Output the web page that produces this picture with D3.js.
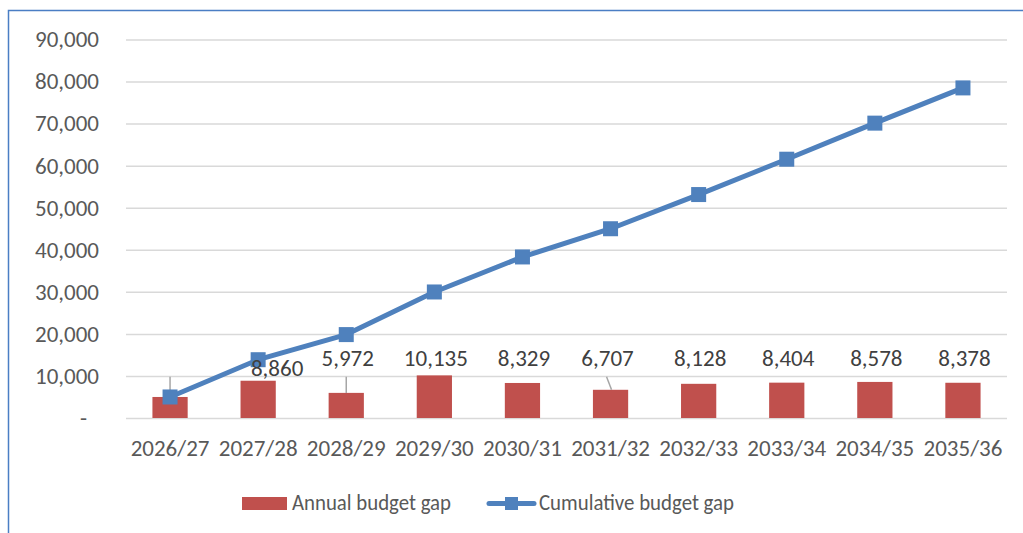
<!DOCTYPE html>
<html><head><meta charset="utf-8">
<script src="https://cdn.jsdelivr.net/npm/d3@7"></script>
<style>
html,body{margin:0;padding:0;background:#fff;overflow:hidden;}
svg{display:block;font-family:Carlito,Calibri,Lato,sans-serif;}
</style></head>
<body>
<svg id="chart" width="1023" height="533"></svg>
<script>
const categories = ['2026/27','2027/28','2028/29','2029/30','2030/31','2031/32','2032/33','2033/34','2034/35','2035/36'];
const annualGap = [5000, 8860, 5972, 10135, 8329, 6707, 8128, 8404, 8578, 8378];
const cumulativeGap = [5000, 13860, 19832, 29967, 38296, 45003, 53131, 61535, 70113, 78491];
const yTicks = [0, 10000, 20000, 30000, 40000, 50000, 60000, 70000, 80000, 90000];
const seriesNames = ['Annual budget gap', 'Cumulative budget gap'];
const shownLabels = [false, true, true, true, true, true, true, true, true, true];

const RED = '#C0504D', BLUE = '#4F81BD', GRID = '#D9D9D9', TEXT = '#595959', LEADER = '#A6A6A6';
const FONT = 'Carlito,Calibri,Lato,sans-serif';
const FS = '23px';
const svg = d3.select('#chart');

// outer frame (clipped at right/bottom)
svg.append('rect').attr('x', 8.5).attr('y', 10.5).attr('width', 1100).attr('height', 600)
  .attr('fill', 'none').attr('stroke', '#4A7EC4').attr('stroke-width', 1.5);

const x = d3.scaleBand().domain(categories).range([126, 1007]).paddingInner(0.6).paddingOuter(0.3);
const y = d3.scaleLinear().domain([0, 90000]).range([418, 39.5]);
const cx = c => x(c) + x.bandwidth() / 2;

// gridlines + y labels
const yAxis = d3.axisLeft(y).tickValues(yTicks).tickSize(-(1007 - 126)).tickPadding(27)
  .tickFormat(v => v === 0 ? '-' : d3.format(',')(v));
const gy = svg.append('g').attr('transform', 'translate(126,0)').call(yAxis);
gy.select('.domain').remove();
gy.selectAll('.tick line').attr('stroke', GRID).attr('stroke-width', 1.5);
gy.selectAll('.tick text').attr('fill', TEXT).style('font-size', FS).attr('font-family', FONT);
gy.selectAll('.tick').filter(d => d === 0).select('text').attr('dx', -12);

// x labels
const xAxis = d3.axisBottom(x).tickSize(0).tickPadding(22);
const gx = svg.append('g').attr('transform', 'translate(0,418)').call(xAxis);
gx.select('.domain').remove();
gx.selectAll('.tick text').attr('fill', TEXT).style('font-size', FS).attr('font-family', FONT);

// bars
svg.append('g').selectAll('rect').data(annualGap).join('rect')
  .attr('x', (d, i) => x(categories[i])).attr('width', x.bandwidth())
  .attr('y', d => y(d)).attr('height', d => y(0) - y(d)).attr('fill', RED);

// leader lines
const labelBaseline = y(12400);
const leaders = [{i: 0, dx0: 0, dx1: 0}, {i: 2, dx0: 0, dx1: 0}, {i: 5, dx0: -4, dx1: 1}];
svg.append('g').selectAll('line').data(leaders).join('line')
  .attr('x1', d => cx(categories[d.i]) + d.dx0).attr('y1', labelBaseline + 11)
  .attr('x2', d => cx(categories[d.i]) + d.dx1).attr('y2', d => y(annualGap[d.i]))
  .attr('stroke', LEADER).attr('stroke-width', 1.5);

// cumulative line
const line = d3.line().x((d, i) => cx(categories[i])).y(d => y(d));
svg.append('path').datum(cumulativeGap).attr('d', line).attr('fill', 'none')
  .attr('stroke', BLUE).attr('stroke-width', 5).attr('stroke-linejoin', 'round').attr('stroke-linecap', 'round');
svg.append('g').selectAll('rect').data(cumulativeGap).join('rect')
  .attr('x', (d, i) => cx(categories[i]) - 7.5).attr('y', d => y(d) - 7.5)
  .attr('width', 15).attr('height', 15).attr('fill', BLUE);

// bar data labels
const labelNudge = {1: {dx: 19, dy: 10}, 5: {dx: -3, dy: 0}};
const labelData = annualGap.map((v, i) => ({v, i})).filter(d => shownLabels[d.i]);
svg.append('g').selectAll('text').data(labelData).join('text')
  .attr('x', d => cx(categories[d.i]) + (labelNudge[d.i] ? labelNudge[d.i].dx : 1.5))
  .attr('y', d => labelBaseline + (labelNudge[d.i] ? labelNudge[d.i].dy : 0))
  .attr('text-anchor', 'middle').attr('fill', '#404040').style('font-size', FS)
  .text(d => d3.format(',')(d.v));

// legend
const lg = svg.append('g');
lg.append('rect').attr('x', 242).attr('y', 497).attr('width', 45).attr('height', 13).attr('fill', RED);
lg.append('text').attr('x', 292).attr('y', 510).attr('fill', TEXT).style('font-size', '22px')
  .attr('textLength', 159).attr('lengthAdjust', 'spacingAndGlyphs').text(seriesNames[0]);
lg.append('line').attr('x1', 489).attr('x2', 534).attr('y1', 503.5).attr('y2', 503.5)
  .attr('stroke', BLUE).attr('stroke-width', 5).attr('stroke-linecap', 'round');
lg.append('rect').attr('x', 505).attr('y', 497).attr('width', 13).attr('height', 13).attr('fill', BLUE);
lg.append('text').attr('x', 539).attr('y', 510).attr('fill', TEXT).style('font-size', '22px')
  .attr('textLength', 195).attr('lengthAdjust', 'spacingAndGlyphs').text(seriesNames[1]);
</script>
</body></html>
